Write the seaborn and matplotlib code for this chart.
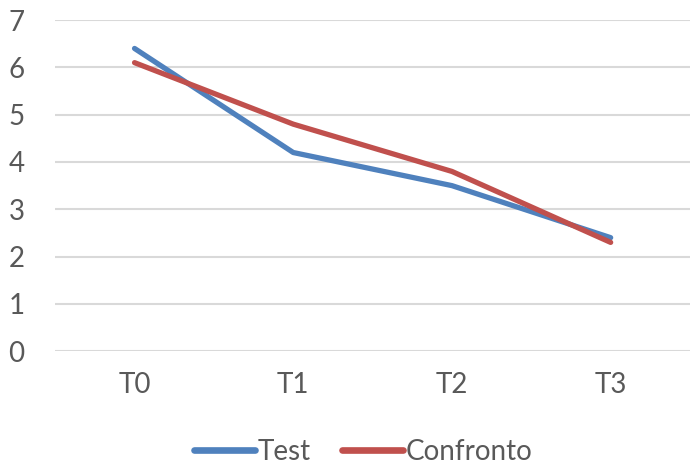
import matplotlib
matplotlib.use("Agg")
import matplotlib.pyplot as plt
import seaborn as sns
import pandas as pd

# data
categories = ["T0", "T1", "T2", "T3"]
test_values = [6.4, 4.2, 3.5, 2.4]
confronto_values = [6.1, 4.8, 3.8, 2.3]

df = pd.DataFrame({
    "tempo": categories * 2,
    "valore": test_values + confronto_values,
    "serie": ["Test"] * 4 + ["Confronto"] * 4,
})

sns.set_theme(style="white")
plt.rcParams["font.family"] = ["Lato", "DejaVu Sans"]

fig = plt.figure(figsize=(6.9, 4.67), dpi=100)
ax = fig.add_axes([0.08, 0.248, 0.92, 0.709])

sns.lineplot(data=df, x="tempo", y="valore", hue="serie",
             palette={"Test": "#4F81BD", "Confronto": "#C0504D"},
             linewidth=3.8, ax=ax, sort=False)
for line in ax.lines:
    line.set_solid_capstyle("round")
    line.set_solid_joinstyle("round")

ax.set_xlim(-0.5, 3.5)
ax.set_ylim(0, 7)
ax.set_yticks(range(0, 8))
ax.yaxis.grid(True, color="#D9D9D9", linewidth=1.5)
ax.set_axisbelow(True)
for s in ax.spines.values():
    s.set_visible(False)
ax.set_xlabel("")
ax.set_ylabel("")
ax.tick_params(axis="both", colors="#595959", labelsize=20, length=0)
ax.tick_params(axis="y", pad=22)
ax.tick_params(axis="x", pad=15)

leg = ax.legend(loc="upper center", bbox_to_anchor=(0.485, -0.19), ncol=2,
                frameon=False, fontsize=20, handlelength=2.2,
                handletextpad=0.1, columnspacing=1.1)
for t in leg.get_texts():
    t.set_color("#595959")
for h in leg.get_lines():
    h.set_linewidth(4.8)
    h.set_solid_capstyle("round")

fig.savefig("out.png", dpi=100)
